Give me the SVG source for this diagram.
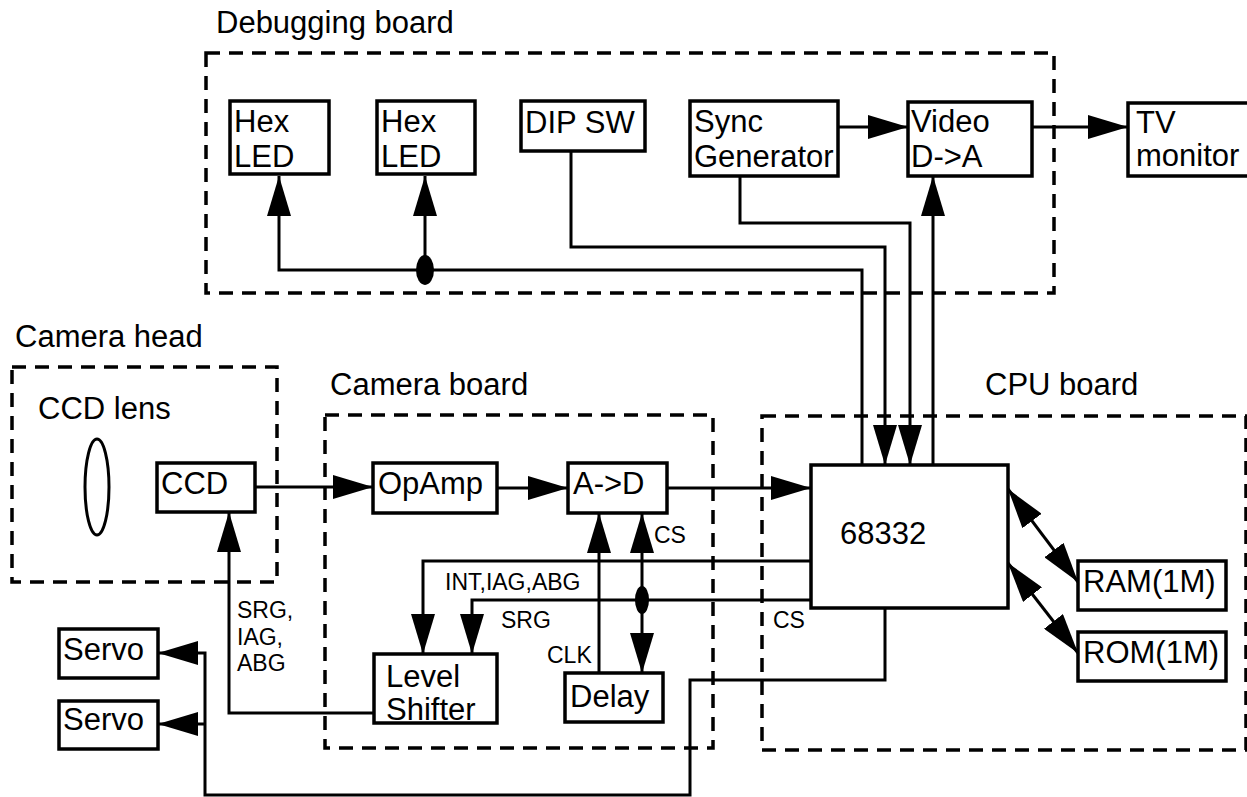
<svg xmlns="http://www.w3.org/2000/svg" width="1247" height="797" viewBox="0 0 1247 797">
<style>
.box{fill:#fff;stroke:#000;stroke-width:3.5}
.board{fill:none;stroke:#000;stroke-width:3.5;stroke-dasharray:14 9}
.ln{fill:none;stroke:#000;stroke-width:3}
.t{font-family:"Liberation Sans",Arial,sans-serif;font-size:31px;fill:#000}
.s{font-family:"Liberation Sans",Arial,sans-serif;font-size:23px;fill:#000}
</style>
<defs>
<marker id="ah" viewBox="0 0 40 24" refX="40" refY="12" markerWidth="40" markerHeight="24" markerUnits="userSpaceOnUse" orient="auto-start-reverse">
<path d="M0,0 L40,12 L0,24 z" fill="#000"/>
</marker>
</defs>
<rect width="1247" height="797" fill="#fff"/>

<g id="boards">
<rect class="board" x="206" y="53" width="848" height="240"/>
<rect class="board" x="12" y="367" width="265" height="215"/>
<rect class="board" x="325" y="415" width="388" height="333"/>
<rect class="board" x="762" y="416" width="484" height="334"/>
<text class="t" x="216" y="33">Debugging board</text>
<text class="t" x="15" y="347">Camera head</text>
<text class="t" x="330" y="395">Camera board</text>
<text class="t" x="985" y="395">CPU board</text>
</g>

<g id="connectors">
<path class="ln" d="M862,465 V270 H279 V176" marker-end="url(#ah)"/>
<path class="ln" d="M425,270 V176" marker-end="url(#ah)"/>
<ellipse cx="425" cy="270" rx="9" ry="15" fill="#000"/>
<path class="ln" d="M571,151 V247 H885 V465" marker-end="url(#ah)"/>
<path class="ln" d="M740,176 V223 H910 V465" marker-end="url(#ah)"/>
<path class="ln" d="M933,465 V176" marker-end="url(#ah)"/>
<path class="ln" d="M838,127 H908" marker-end="url(#ah)"/>
<path class="ln" d="M1032,127 H1128" marker-end="url(#ah)"/>
<path class="ln" d="M255,487 H373" marker-end="url(#ah)"/>
<path class="ln" d="M497,488 H568" marker-end="url(#ah)"/>
<path class="ln" d="M667,488 H811" marker-end="url(#ah)"/>
<path class="ln" d="M599,673 V513" marker-end="url(#ah)"/>
<path class="ln" d="M642,673 V513" marker-start="url(#ah)" marker-end="url(#ah)"/>
<ellipse cx="642" cy="600" rx="7" ry="14" fill="#000"/>
<path class="ln" d="M811,561 H423 V654" marker-end="url(#ah)"/>
<path class="ln" d="M811,600 H472 V654" marker-end="url(#ah)"/>
<path class="ln" d="M374,713 H229 V512" marker-end="url(#ah)"/>
<path class="ln" d="M885,608 V680 H690 V795 H205 V653 H158" marker-end="url(#ah)"/>
<path class="ln" d="M205,724 H158" marker-end="url(#ah)"/>
<path class="ln" d="M1008,489 L1078,582" marker-start="url(#ah)" marker-end="url(#ah)"/>
<path class="ln" d="M1008,563 L1078,653" marker-start="url(#ah)" marker-end="url(#ah)"/>
<text class="s" x="654" y="543">CS</text>
<text class="s" x="445" y="590">INT,IAG,ABG</text>
<text class="s" x="501" y="628">SRG</text>
<text class="s" x="547" y="663">CLK</text>
<text class="s" x="773" y="628">CS</text>
<text class="s" x="237" y="618">SRG,</text>
<text class="s" x="237" y="645">IAG,</text>
<text class="s" x="237" y="671">ABG</text>
</g>

<g id="hexled1"><rect class="box" x="230" y="101" width="99" height="73"/><text class="t" x="234" y="132">Hex</text><text class="t" x="234" y="167">LED</text></g>
<g id="hexled2"><rect class="box" x="377" y="101" width="98" height="73"/><text class="t" x="381" y="132">Hex</text><text class="t" x="381" y="167">LED</text></g>
<g id="dipsw"><rect class="box" x="521" y="101" width="124" height="50"/><text class="t" x="525" y="133">DIP SW</text></g>
<g id="syncgen"><rect class="box" x="690" y="101" width="148" height="75"/><text class="t" x="694" y="132">Sync</text><text class="t" x="694" y="167">Generator</text></g>
<g id="videoda"><rect class="box" x="908" y="102" width="124" height="74"/><text class="t" x="911" y="132">Video</text><text class="t" x="911" y="167">D-&gt;A</text></g>
<g id="tvmonitor"><rect class="box" x="1128" y="103" width="124" height="73"/><text class="t" x="1136" y="133">TV</text><text class="t" x="1136" y="166">monitor</text></g>
<g id="lens"><ellipse cx="97" cy="487" rx="12" ry="48" fill="none" stroke="#000" stroke-width="3"/><text class="t" x="38" y="419">CCD lens</text></g>
<g id="ccd"><rect class="box" x="157" y="463" width="98" height="49"/><text class="t" x="161" y="494">CCD</text></g>
<g id="opamp"><rect class="box" x="373" y="463" width="124" height="50"/><text class="t" x="378" y="494">OpAmp</text></g>
<g id="atod"><rect class="box" x="568" y="463" width="99" height="50"/><text class="t" x="573" y="494">A-&gt;D</text></g>
<g id="cpu"><rect class="box" x="811" y="465" width="197" height="143"/><text class="t" x="840" y="544">68332</text></g>
<g id="ram"><rect class="box" x="1078" y="561" width="148" height="49"/><text class="t" x="1083" y="592">RAM(1M)</text></g>
<g id="rom"><rect class="box" x="1078" y="632" width="148" height="49"/><text class="t" x="1083" y="663">ROM(1M)</text></g>
<g id="levelshifter"><rect class="box" x="374" y="654" width="123" height="69"/><text class="t" x="386" y="687">Level</text><text class="t" x="386" y="720">Shifter</text></g>
<g id="delay"><rect class="box" x="565" y="673" width="98" height="49"/><text class="t" x="570" y="707">Delay</text></g>
<g id="servo1"><rect class="box" x="59" y="629" width="99" height="49"/><text class="t" x="63" y="660">Servo</text></g>
<g id="servo2"><rect class="box" x="59" y="701" width="99" height="48"/><text class="t" x="63" y="730">Servo</text></g>
</svg>
